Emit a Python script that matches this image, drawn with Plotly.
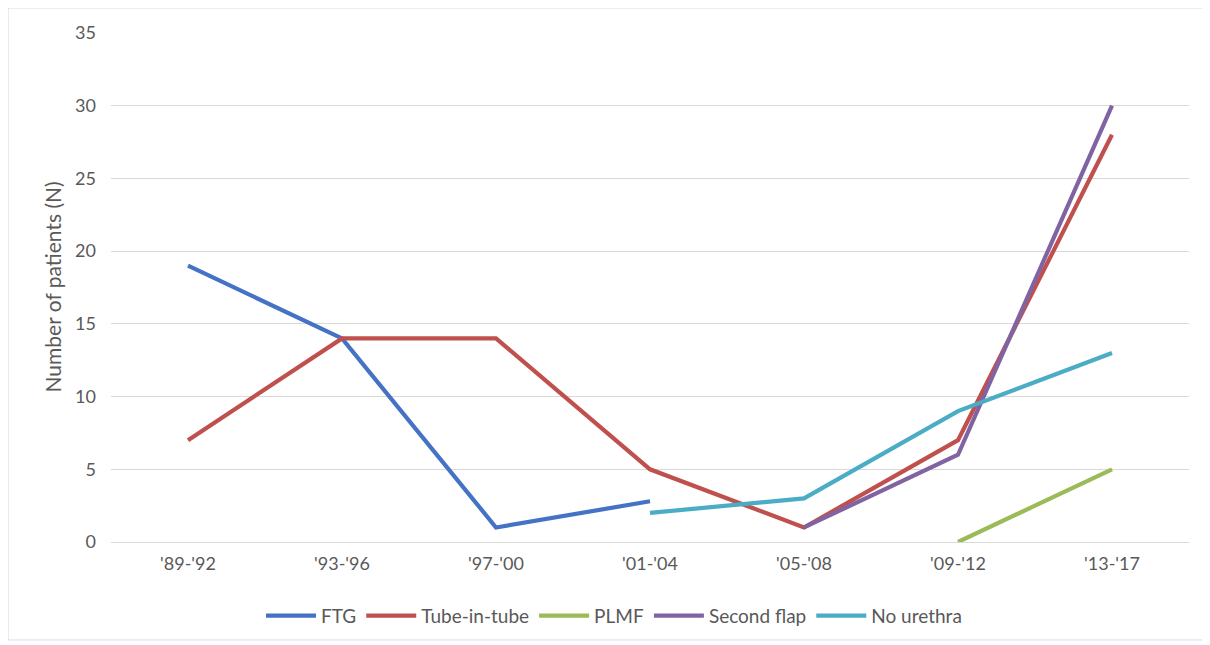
import plotly.graph_objects as go

categories = ["'89-'92", "'93-'96", "'97-'00", "'01-'04", "'05-'08", "'09-'12", "'13-'17"]
ftg = [19, 14, 1, 2.8, None, None, None]
tube_in_tube = [7, 14, 14, 5, 1, 7, 28]
plmf = [None, None, None, None, None, 0, 5]
second_flap = [None, None, None, None, 1, 6, 30]
no_urethra = [None, None, None, 2, 3, 9, 13]

series = [
    ("FTG", ftg, "#4472C4"),
    ("Tube-in-tube", tube_in_tube, "#C0504D"),
    ("PLMF", plmf, "#9BBB59"),
    ("Second flap", second_flap, "#8064A2"),
    ("No urethra", no_urethra, "#4BACC6"),
]

fig = go.Figure()
for name, vals, color in series:
    fig.add_trace(go.Scatter(x=categories, y=vals, name=name, mode="lines",
                             line=dict(color=color, width=4.2), connectgaps=False))

font_color = "#595959"
fam = "Lato, Open Sans, sans-serif"
fig.update_layout(
    width=1210, height=645,
    paper_bgcolor="white", plot_bgcolor="white",
    margin=dict(l=103, r=29, t=25, b=111, autoexpand=False),
    font=dict(family=fam, size=18, color=font_color),
    legend=dict(orientation="h", x=0.4666, xanchor="center", y=-0.145, yanchor="middle",
                itemwidth=50, tracegroupgap=0,
                font=dict(family=fam, size=19, color=font_color)),
    showlegend=True,
)
fig.update_xaxes(type="category", range=[-0.5, 6.5], showgrid=False, showline=True,
                 linecolor="#D9D9D9", linewidth=1, ticks="", automargin=False,
                 ticklabelstandoff=5,
                 tickfont=dict(family=fam, size=18, color=font_color))
fig.update_yaxes(range=[0, 35], dtick=5, showgrid=True, gridcolor="#D9D9D9", gridwidth=1,
                 zeroline=False, showline=False, ticks="", automargin=False,
                 ticklabelstandoff=14,
                 tickfont=dict(family=fam, size=18, color=font_color))
fig.add_annotation(text="Number of patients (N)", xref="paper", yref="paper",
                   x=-0.0547, y=0.5, textangle=-90, showarrow=False,
                   xanchor="center", yanchor="middle",
                   font=dict(family=fam, size=21, color=font_color))
fig.add_shape(type="rect", xref="paper", yref="paper",
              x0=-0.0955, x1=1.0148, y0=-0.1925, y1=1.0491,
              line=dict(color="#D9D9D9", width=1), fillcolor="rgba(0,0,0,0)", layer="below")

fig.write_html("out.html")
